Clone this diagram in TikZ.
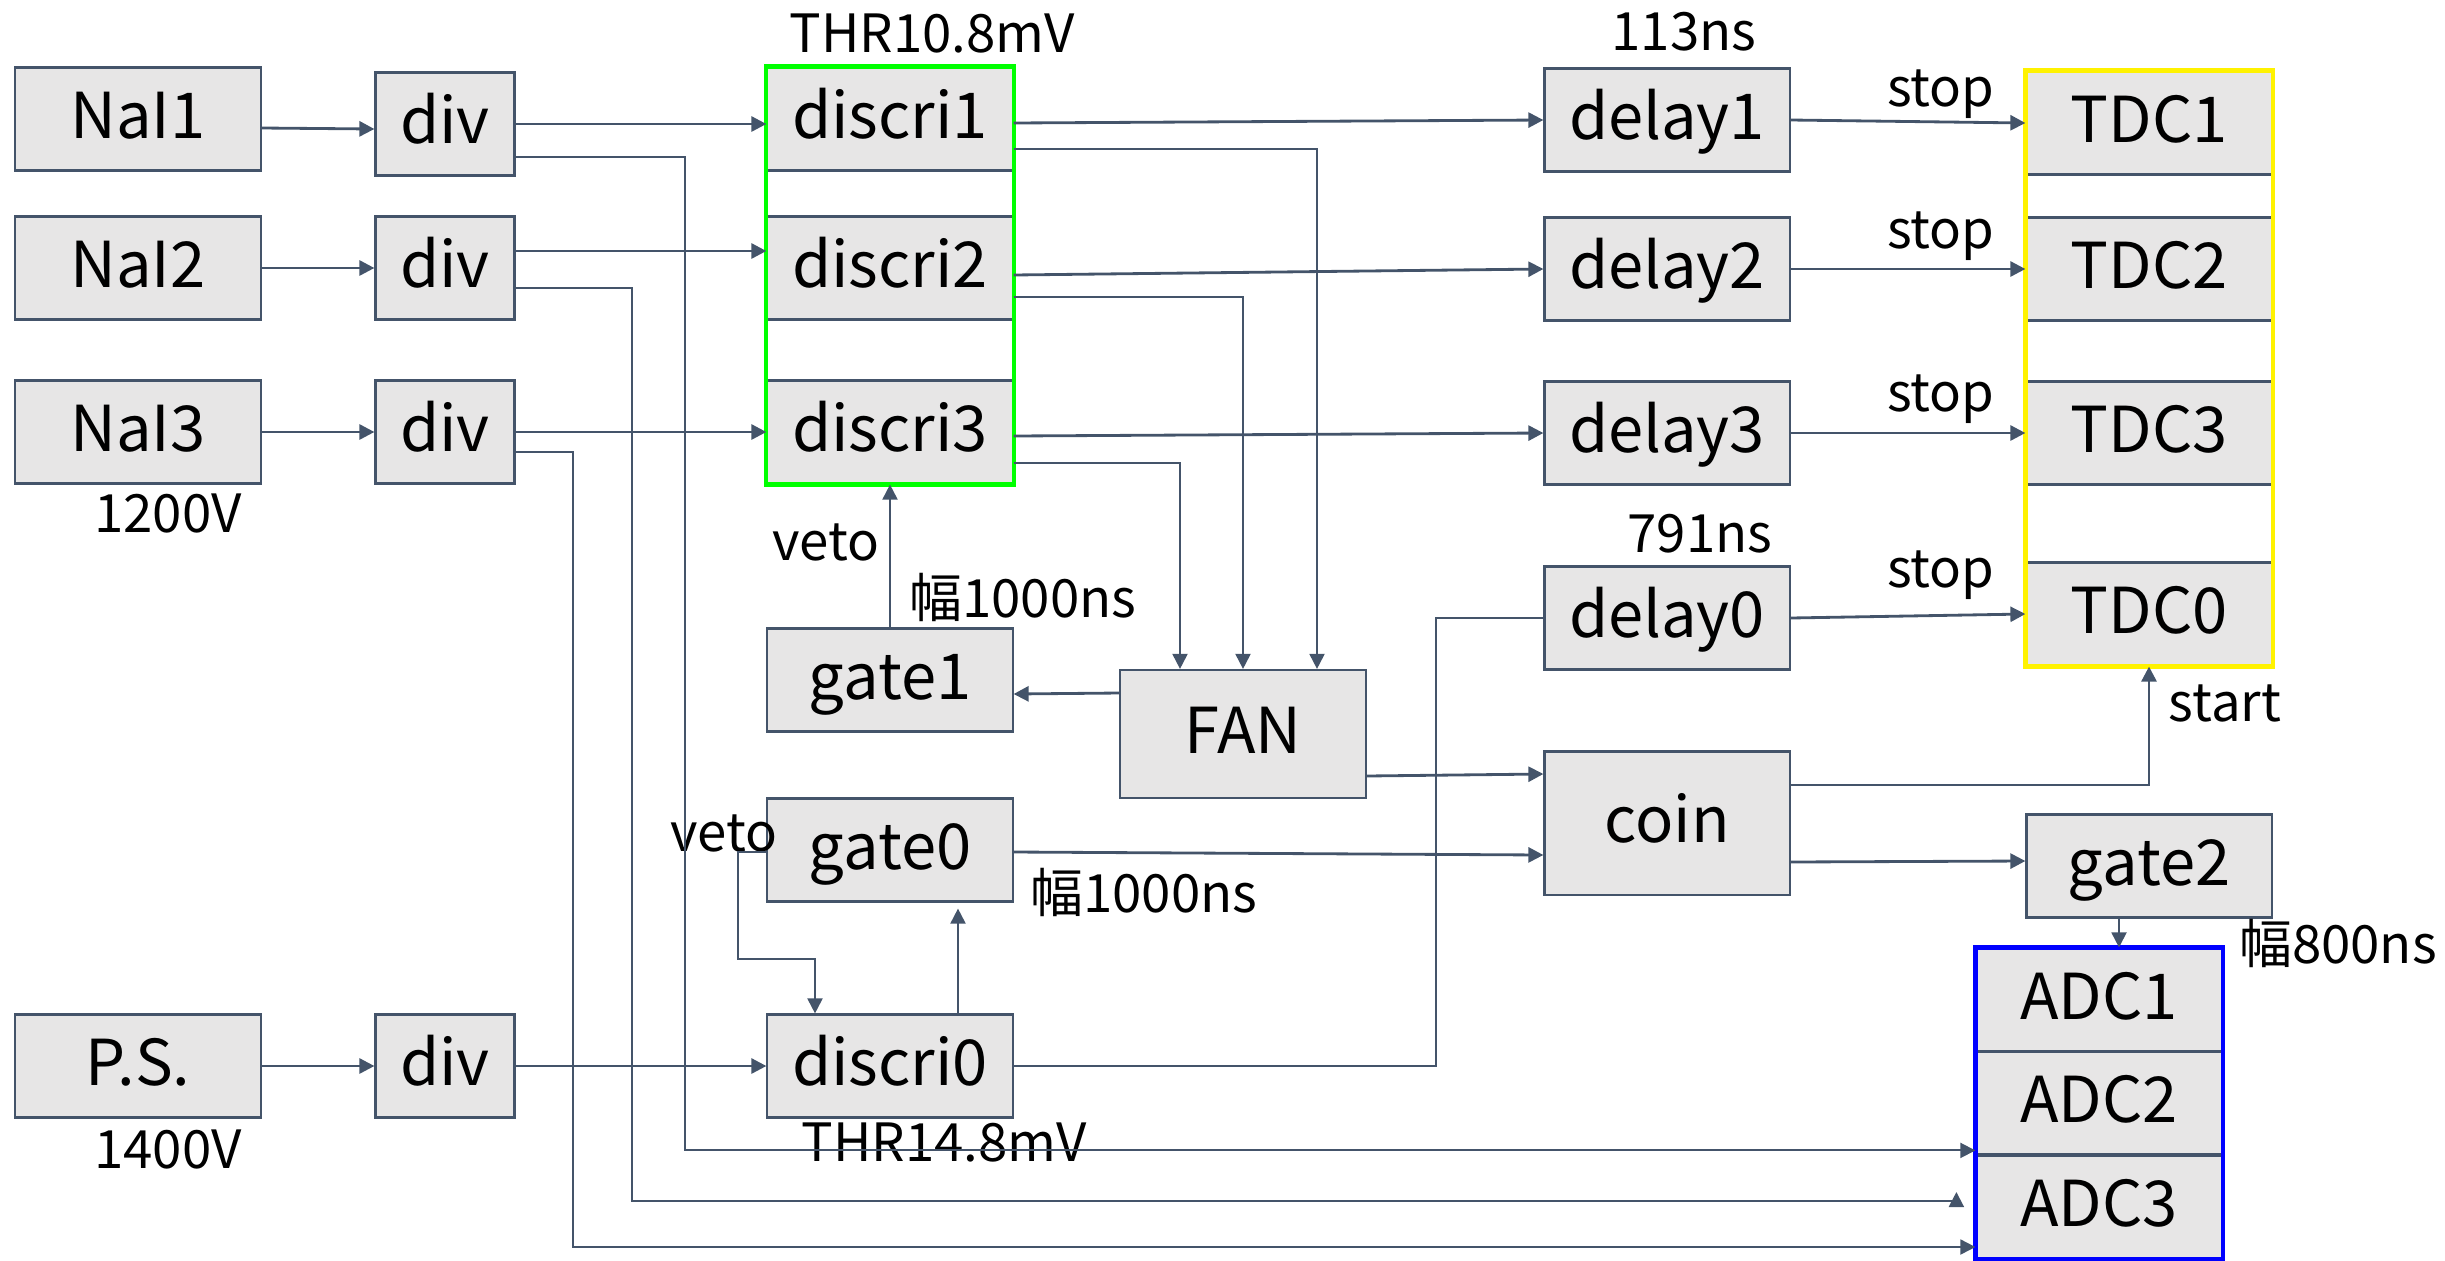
\documentclass[tikz,border=0pt]{standalone}
\usepackage{fontspec}
\setmainfont{Noto Sans CJK JP}
\usetikzlibrary{arrows.meta,calc}

\definecolor{wirec}{HTML}{44546A}
\definecolor{boxc}{HTML}{E7E6E6}

\tikzset{
	box/.style={draw=wirec, fill=boxc, line width=0.6pt, minimum width=2.45cm, minimum height=1.03cm,
		inner sep=0pt, text height=0.46cm, text depth=0.08cm, font=\fontsize{18}{18}\selectfont},
	lbl/.style={anchor=base, inner sep=0pt, font=\fontsize{15}{15}\selectfont},
	tip/.style={-{Triangle[length=0.15cm,width=0.15cm]}},
	wire/.style={draw=wirec, line width=0.8pt, tip},
	bus/.style={draw=wirec, line width=0.55pt},
	frame/.style={line width=1.2pt}
}

\begin{document}
\begin{tikzpicture}[x=0.01cm, y=-0.01cm]
	\useasboundingbox (0,0) rectangle (2445,1260);
	
	% detectors, dividers, discriminators
	\node[box] (NaI1) at (138,119) {NaI1};
	\node[box] (NaI2) at (138,268) {NaI2};
	\node[box] (NaI3) at (138,432) {NaI3};
	\node[box] (PS) at (138,1066) {P.S.};
	\foreach \n/\y in {1/124,2/268,3/432,0/1066}
		\node[box, minimum width=1.39cm] (div\n) at (445,\y) {div};
	\foreach \n/\y in {1/119,2/268,3/432,0/1066}
		\node[box] (discri\n) at (890,\y) {discri\n};
	
	\node[box] (gate1) at (890,680) {gate1};
	\node[box] (gate0) at (890,850) {gate0};
	\node[box, minimum height=1.28cm] (FAN) at (1243,734) {FAN};
	\node[box, minimum height=1.43cm] (coin) at (1667,823) {coin};
	\node[box] (gate2) at (2149,866) {gate2};
	
	\foreach \n/\y in {1/120,2/269,3/433,0/618}
		\node[box] (delay\n) at (1667,\y) {delay\n};
	\foreach \n/\y in {1/123,2/269,3/433,0/614}
		\node[box] (TDC\n) at (2149,\y) {TDC\n};
	\foreach \n/\y in {1/1000,2/1103,3/1207}
		\node[box] (ADC\n) at (2099,\y) {ADC\n};
	
	\draw[frame, green] (discri1.north west) rectangle (discri3.south east);
	\draw[frame, yellow] (TDC1.north west) rectangle (TDC0.south east);
	\draw[frame, blue] (ADC1.north west) rectangle (ADC3.south east);
	
	% labels
	\node[lbl] (thr1) at (932,52) {THR10.8mV};
	\node[lbl] (thr0) at (944,1161) {THR14.8mV};
	\node[lbl] (ns1) at (1684,50) {113ns};
	\node[lbl] (ns0) at (1700,552) {791ns};
	\foreach \n/\y in {1/106,2/248,3/411,0/587}
		\node[lbl] (stop\n) at (1941,\y) {stop};
	\node[lbl] (hv1) at (168,532) {1200V};
	\node[lbl] (hv0) at (168,1168) {1400V};
	\node[lbl] (veto1) at (826,560) {veto};
	\node[lbl] (veto0) at (724,851) {veto};
	\node[lbl] (width1) at (1023,617) {幅1000ns};
	\node[lbl] (width0) at (1144,912) {幅1000ns};
	\node[lbl] (width2) at (2338,963) {幅800ns};
	\node[lbl] (startlbl) at (2225,721) {start};
	
	% inputs
	\draw[wire] ($(NaI1.east)+(0,9)$) -- ($(div1.west)+(0,5)$);
	\draw[wire] (NaI2.east) -- (div2.west);
	\draw[wire] (NaI3.east) -- (div3.west);
	\draw[wire] (PS.east) -- (div0.west);
	\draw[wire] (div1.east) -- (div1.east -| discri1.west);
	\draw[wire] ($(div2.east)+(0,-17)$) -- ($(discri2.west)+(0,-17)$);
	\draw[wire] (div3.east) -- (discri3.west);
	\draw[wire] (div0.east) -- (discri0.west);
	
	% analog lines to the ADC
	\draw[bus, tip] ($(div1.east)+(0,33)$) -- ++(169,0) |- ($(ADC3.north west)+(0,-4)$);
	\draw[bus, tip] ($(div2.east)+(0,20)$) -- ++(116,0) |- ($(ADC3.west)+(-19,-6)$) -- ++(0,-9);
	\draw[bus, tip] ($(div3.east)+(0,20)$) -- ++(57,0) |- ($(ADC3.west)+(0,40)$);
	
	% discriminator outputs
	\draw[wire] ($(discri1.east)+(0,4)$) -- (delay1.west);
	\draw[wire] ($(discri2.east)+(0,7)$) -- (delay2.west);
	\draw[wire] ($(discri3.east)+(0,4)$) -- (delay3.west);
	\draw[bus, tip] ($(discri1.east)+(0,30)$) -| ($(FAN.north)+(74,0)$);
	\draw[bus, tip] ($(discri2.east)+(0,29)$) -| (FAN.north);
	\draw[bus, tip] ($(discri3.east)+(0,31)$) -| ($(FAN.north)+(-63,0)$);
	
	% gates and coincidence
	\draw[wire] ($(FAN.west)+(0,-41)$) -- ($(gate1.east)+(0,14)$);
	\draw[bus, tip] (gate1.north) -- (discri3.south);
	\draw[wire] ($(FAN.east)+(0,42)$) -- ($(coin.west)+(0,-49)$);
	\draw[wire] ($(gate0.east)+(0,2)$) -- ($(coin.west)+(0,32)$);
	\draw[bus, tip] ($(discri0.north)+(68,0)$) -- ($(gate0.south)+(68,6)$);
	\draw[bus, tip] ($(gate0.west)+(0,2)$) -- ++(-28,0) -- ++(0,107) -| ($(discri0.north)+(-75,0)$);
	\draw[bus] (discri0.east) -| ($(delay0.west)+(-107,0)$) -- (delay0.west);
	
	% TDC and ADC side
	\foreach \n in {1,2,3,0}
		\draw[wire] (delay\n.east) -- (TDC\n.west);
	\draw[wire] ($(coin.east)+(0,-38)$) -| (TDC0.south);
	\draw[wire] ($(coin.east)+(0,39)$) -- ($(gate2.west)+(0,-5)$);
	\draw[bus, tip] ($(gate2.south)+(-30,0)$) -- ($(ADC1.north)+(20,0)$);
\end{tikzpicture}
\end{document}
